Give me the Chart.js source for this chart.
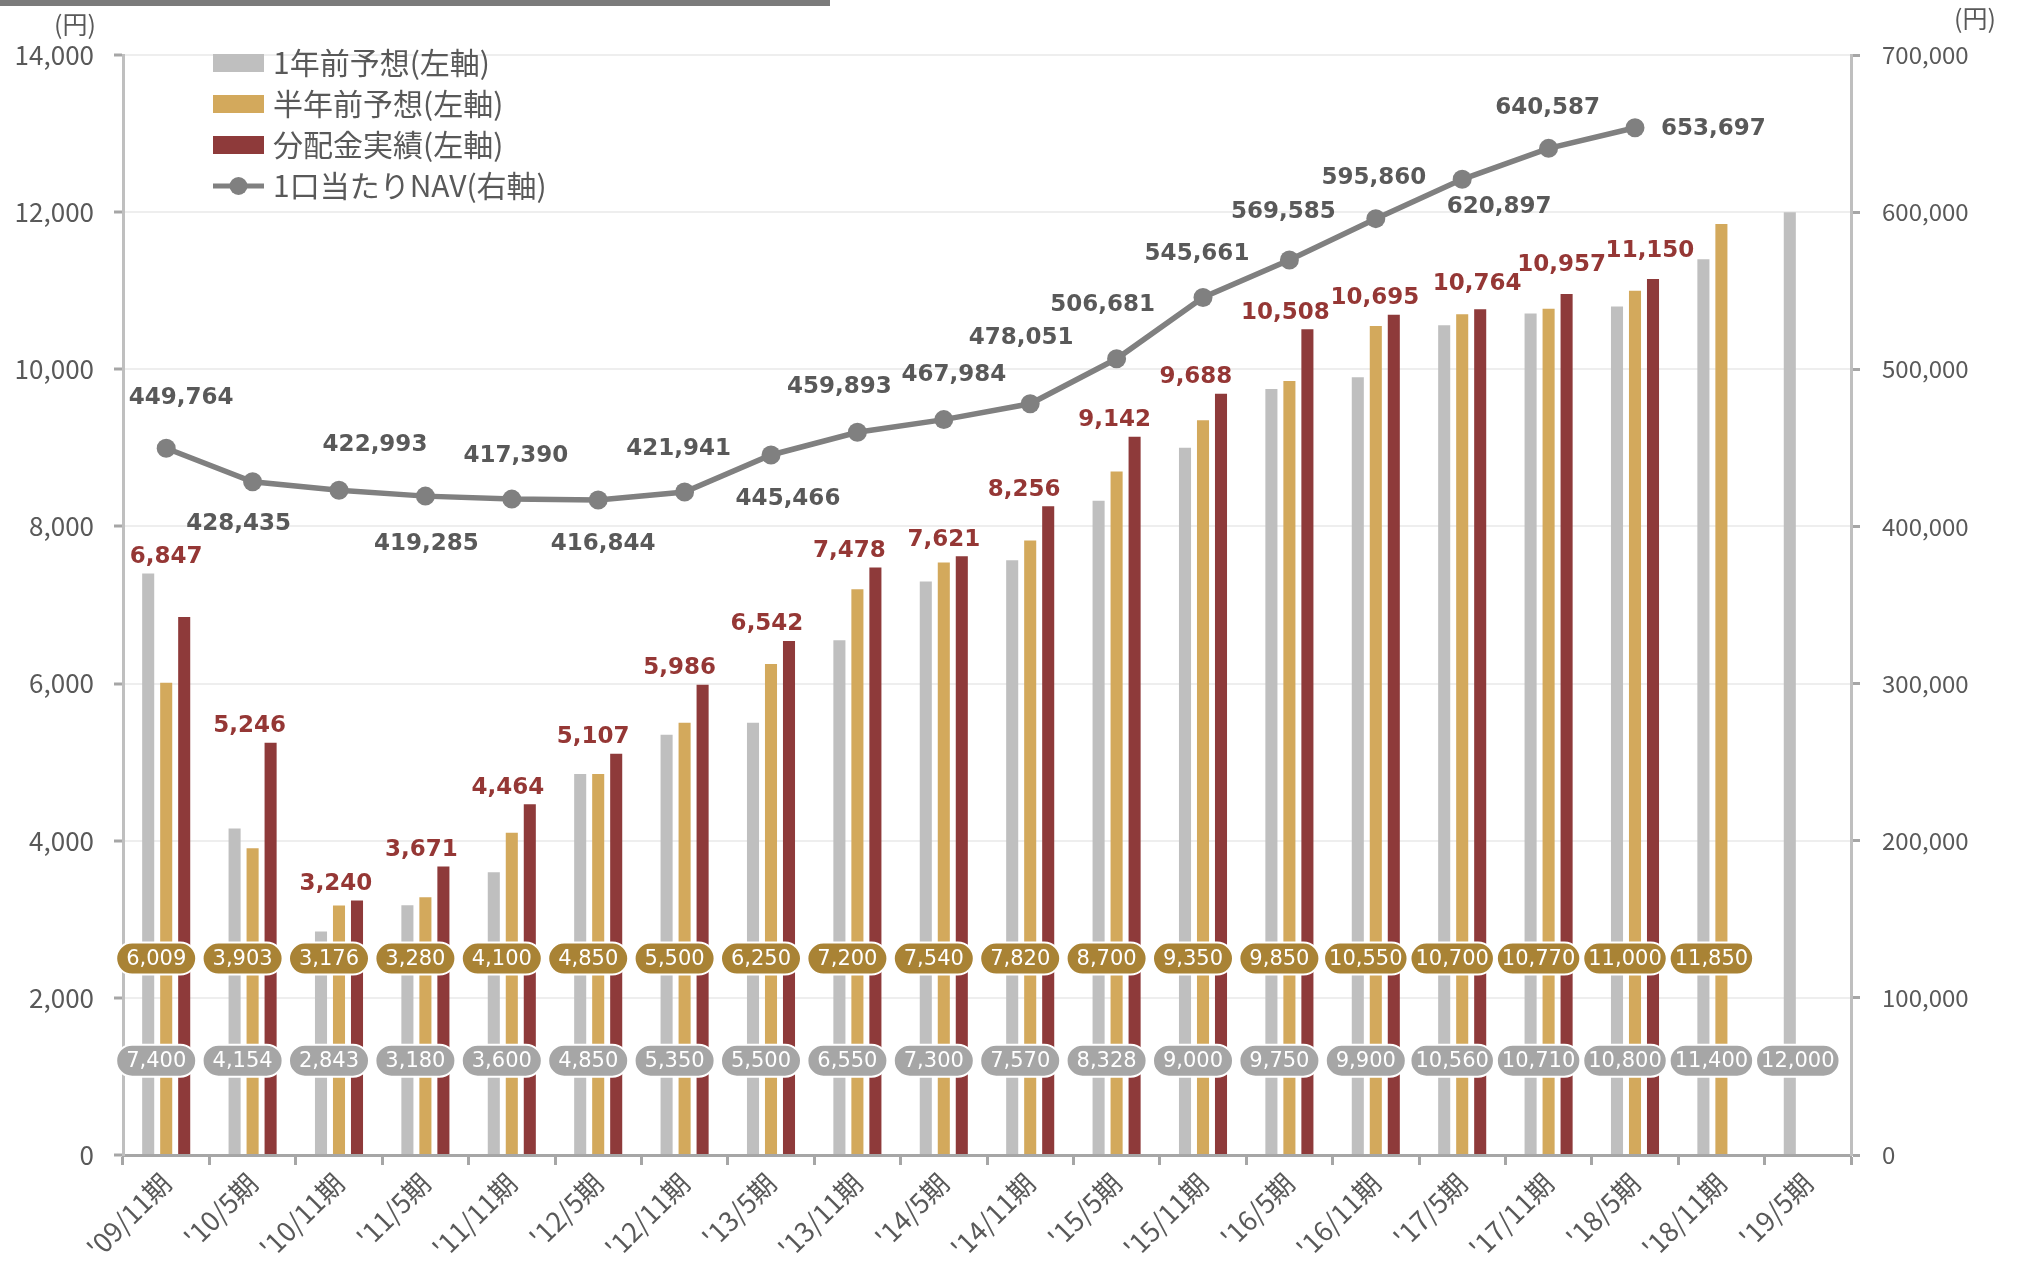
<!DOCTYPE html>
<html>
<head>
<meta charset="utf-8">
<script src="https://cdn.jsdelivr.net/npm/chart.js@4.4.0/dist/chart.umd.min.js"></script>
<style>
  html, body { margin: 0; padding: 0; background: #fff; }
  #wrap { position: relative; width: 2022px; height: 1264px; }
  #topbar { position: absolute; left: 0; top: 0; width: 830px; height: 6px; background: #7b7b7b; }
</style>
</head>
<body>
<div id="wrap">
  <div id="topbar"></div>
  <canvas id="chart"></canvas>
</div>
<script>
// periods
const periods = ["'09/11期", "'10/5期", "'10/11期", "'11/5期", "'11/11期", "'12/5期", "'12/11期",
  "'13/5期", "'13/11期", "'14/5期", "'14/11期", "'15/5期", "'15/11期", "'16/5期", "'16/11期",
  "'17/5期", "'17/11期", "'18/5期", "'18/11期", "'19/5期"];

// 1年前予想 (left axis)
const forecast1y = [7400, 4154, 2843, 3180, 3600, 4850, 5350, 5500, 6550, 7300,
  7570, 8328, 9000, 9750, 9900, 10560, 10710, 10800, 11400, 12000];

// 半年前予想 (left axis)
const forecast6m = [6009, 3903, 3176, 3280, 4100, 4850, 5500, 6250, 7200, 7540,
  7820, 8700, 9350, 9850, 10550, 10700, 10770, 11000, 11850, null];

// 分配金実績 (left axis)
const actualDist = [6847, 5246, 3240, 3671, 4464, 5107, 5986, 6542, 7478, 7621,
  8256, 9142, 9688, 10508, 10695, 10764, 10957, 11150, null, null];

// 1口当たりNAV (right axis)
const navPerUnit = [449764, 428435, 422993, 419285, 417390, 416844, 421941, 445466, 459893, 467984,
  478051, 506681, 545661, 569585, 595860, 620897, 640587, 653697, null, null];

const leftTicks = [0, 2000, 4000, 6000, 8000, 10000, 12000, 14000];
const rightTicks = [0, 100000, 200000, 300000, 400000, 500000, 600000, 700000];

// where the pill rows sit (left-axis value)
const pill6mLevel = 2500;
const pill1yLevel = 1200;

// label nudges (px) so they don't collide, as in the original
const navLabelDx = [15, -14, 36, 1, 4, 5, -6, 17, -18, 10, -9, -14, -6, -6, -2, 37, -1, null];
const navLabelDy = [-50, 42, -45, 48, -43, 44, -43, 44, -45, -45, -66, -54, -44, -48, -41, 28, -40, null];
const redLabelDx = [0, -3, -3, -4, -4, -5, -5, -4, -8, 0, -6, -2, -7, -4, -1, 15, 13, 15];
const redLabelDy = [0, 0, 0, 0, 0, 0, 0, 0, 0, 0, 0, 0, 0, 0, 0, -9, -13, -11];

const GRAY = '#bfbfbf', GOLD = '#d3a95c', RED = '#8e3a3a', NAV = '#808080';
const TXT = '#595959';
const NUMFONT = "'DejaVu Sans', sans-serif";
const JPFONT = "'Noto Sans CJK JP', sans-serif";

const fmt = v => v.toLocaleString('en-US');

function pill(ctx, x, y, text, bg) {
  ctx.font = '21px ' + NUMFONT;
  const w = Math.max(80, ctx.measureText(text).width + 10), h = 32, r = h / 2;
  ctx.beginPath();
  ctx.moveTo(x - w / 2 + r, y - r);
  ctx.lineTo(x + w / 2 - r, y - r);
  ctx.arc(x + w / 2 - r, y, r, -Math.PI / 2, Math.PI / 2);
  ctx.lineTo(x - w / 2 + r, y + r);
  ctx.arc(x - w / 2 + r, y, r, Math.PI / 2, Math.PI * 1.5);
  ctx.closePath();
  ctx.fillStyle = bg;
  ctx.fill();
  ctx.lineWidth = 2;
  ctx.strokeStyle = '#ffffff';
  ctx.stroke();
  ctx.fillStyle = '#ffffff';
  ctx.textAlign = 'center';
  ctx.textBaseline = 'middle';
  ctx.fillText(text, x, y + 1);
}

const labelPlugin = {
  id: 'labelPlugin',
  afterDatasetsDraw(chart) {
    const ctx = chart.ctx;
    const xs = chart.scales.x, yl = chart.scales.y, yr = chart.scales.y1;
    ctx.save();

    // red labels over the highest bar of each group
    ctx.font = 'bold 23px ' + NUMFONT;
    ctx.fillStyle = '#953735';
    ctx.textAlign = 'center';
    ctx.textBaseline = 'bottom';
    actualDist.forEach((v, i) => {
      if (v == null) return;
      const top = Math.max(forecast1y[i] || 0, forecast6m[i] || 0, v);
      ctx.fillText(fmt(v), xs.getPixelForValue(i) + redLabelDx[i], yl.getPixelForValue(top) - 5 + redLabelDy[i]);
    });

    // NAV labels
    ctx.font = 'bold 23px ' + NUMFONT;
    ctx.fillStyle = TXT;
    ctx.textBaseline = 'middle';
    navPerUnit.forEach((v, i) => {
      if (v == null) return;
      const px = xs.getPixelForValue(i), py = yr.getPixelForValue(v);
      if (navLabelDx[i] == null) {
        ctx.textAlign = 'left';
        ctx.fillText(fmt(v), px + 26, py + 1);
      } else {
        ctx.textAlign = 'center';
        ctx.fillText(fmt(v), px + navLabelDx[i], py + navLabelDy[i]);
      }
    });

    // pills
    periods.forEach((p, i) => {
      const cx = xs.getPixelForValue(i) - 10;
      if (forecast6m[i] != null) pill(ctx, cx, yl.getPixelForValue(pill6mLevel), fmt(forecast6m[i]), '#a98335');
      if (forecast1y[i] != null) pill(ctx, cx, yl.getPixelForValue(pill1yLevel), fmt(forecast1y[i]), '#a6a6a6');
    });
    ctx.restore();
  },
  afterDraw(chart) {
    const ctx = chart.ctx;
    ctx.save();
    // unit labels
    ctx.font = '25px ' + JPFONT;
    ctx.fillStyle = TXT;
    ctx.textBaseline = 'middle';
    ctx.textAlign = 'left';
    ctx.fillText('(円)', 54, 24);
    ctx.fillText('(円)', 1954, 18);

    // legend
    const rows = [63, 104, 145, 186];
    const bx = 213, bw = 51, tx = 273;
    ctx.font = '30px ' + JPFONT;
    chart.data.datasets.forEach((ds, k) => {
      const idx = ds.type === 'line' ? 3 : k;
      const y = rows[idx];
      if (ds.type === 'line') {
        ctx.strokeStyle = NAV;
        ctx.lineWidth = 5;
        ctx.beginPath();
        ctx.moveTo(bx, y);
        ctx.lineTo(bx + bw, y);
        ctx.stroke();
        ctx.fillStyle = NAV;
        ctx.beginPath();
        ctx.arc(bx + bw / 2, y, 9, 0, Math.PI * 2);
        ctx.fill();
      } else {
        ctx.fillStyle = ds.backgroundColor;
        ctx.fillRect(bx, y - 9, bw, 18);
      }
      ctx.fillStyle = TXT;
      ctx.fillText(ds.label, tx, y);
    });
    ctx.restore();
  }
};

const ctx = document.getElementById('chart').getContext('2d');
const myChart = new Chart(ctx, {
  type: 'bar',
  data: {
    labels: periods,
    datasets: [{
      label: '1年前予想(左軸)',
      data: forecast1y,
      backgroundColor: GRAY,
      yAxisID: 'y',
      order: 2
    }, {
      label: '半年前予想(左軸)',
      data: forecast6m,
      backgroundColor: GOLD,
      yAxisID: 'y',
      order: 2
    }, {
      label: '分配金実績(左軸)',
      data: actualDist,
      backgroundColor: RED,
      yAxisID: 'y',
      order: 2
    }, {
      type: 'line',
      label: '1口当たりNAV(右軸)',
      data: navPerUnit,
      borderColor: NAV,
      backgroundColor: NAV,
      borderWidth: 5.5,
      pointRadius: 9.5,
      pointBackgroundColor: NAV,
      pointBorderWidth: 0,
      tension: 0,
      yAxisID: 'y1',
      order: 1
    }]
  },
  options: {
    responsive: true,
    maintainAspectRatio: false,
    animation: false,
    devicePixelRatio: 1,
    datasets: {
      bar: { barPercentage: 0.67, categoryPercentage: 0.625 }
    },
    layout: { padding: { top: 55, left: 0, right: 0, bottom: 0 } },
    plugins: {
      legend: { display: false },
      tooltip: { enabled: false }
    },
    scales: {
      x: {
        offset: true,
        afterFit: s => { s.height = 109; },
        grid: {
          offset: true,
          drawOnChartArea: false,
          tickLength: 10,
          tickColor: '#a6a6a6',
          tickWidth: 3
        },
        border: { color: '#a6a6a6', width: 3 },
        ticks: {
          minRotation: 45,
          maxRotation: 45,
          autoSkip: false,
          padding: 2,
          color: TXT,
          font: { family: JPFONT, size: 27 }
        }
      },
      y: {
        position: 'left',
        min: leftTicks[0],
        max: leftTicks[leftTicks.length - 1],
        afterBuildTicks: s => { s.ticks = leftTicks.map(v => ({ value: v })); },
        afterFit: s => { s.width = 123; },
        grid: { color: '#eeeeee', lineWidth: 2, tickLength: 9, tickColor: '#a6a6a6', tickWidth: 3 },
        border: { color: '#bfbfbf', width: 3 },
        ticks: {
          padding: 20,
          color: TXT,
          font: { family: JPFONT, size: 26 },
          callback: v => fmt(v)
        }
      },
      y1: {
        position: 'right',
        min: rightTicks[0],
        max: rightTicks[rightTicks.length - 1],
        afterBuildTicks: s => { s.ticks = rightTicks.map(v => ({ value: v })); },
        afterFit: s => { s.width = 171; },
        grid: { drawOnChartArea: false, tickLength: 9, tickColor: '#a6a6a6', tickWidth: 3 },
        border: { color: '#bfbfbf', width: 3 },
        ticks: {
          padding: 22,
          color: TXT,
          font: { family: JPFONT, size: 24 },
          callback: v => fmt(v)
        }
      }
    }
  },
  plugins: [labelPlugin]
});
</script>
</body>
</html>
